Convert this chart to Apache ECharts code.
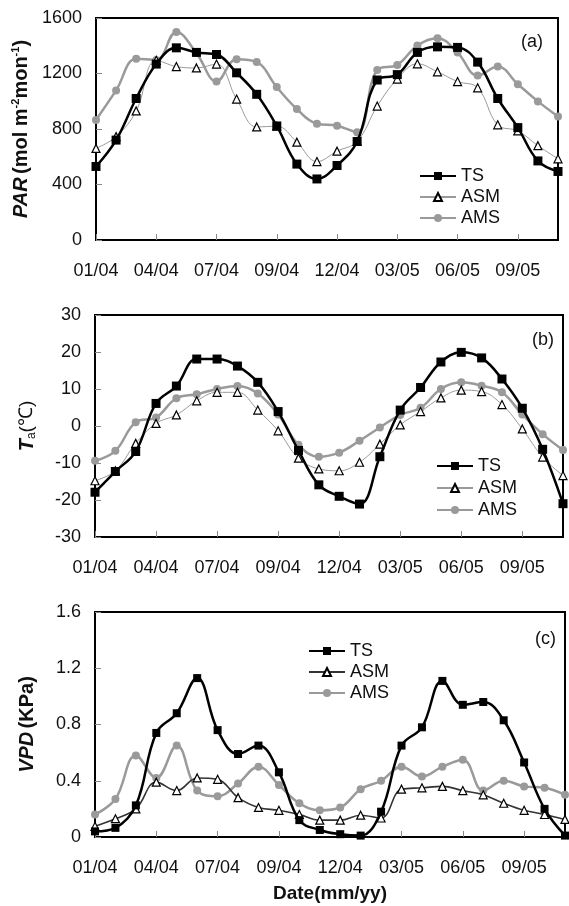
<!DOCTYPE html>
<html lang="en">

<head>
    <meta charset="UTF-8">
    <title>PAR / Ta / VPD</title>
    <script src="https://cdn.jsdelivr.net/npm/echarts@6/dist/echarts.min.js"></script>
    <style>
        body { margin: 0; background: #fff; }
    </style>
</head>

<body>
    <div id="main" style="width: 569px;height:906px;"></div>

    <script type="text/javascript">
        // months 01/04 .. 12/05
        var months = ['01/04', '02/04', '03/04', '04/04', '05/04', '06/04', '07/04', '08/04', '09/04', '10/04', '11/04', '12/04',
            '01/05', '02/05', '03/05', '04/05', '05/05', '06/05', '07/05', '08/05', '09/05', '10/05', '11/05', '12/05'];
        // labels printed under every third month
        var tickLabels = ['01/04', '04/04', '07/04', '09/04', '12/04', '03/05', '06/05', '09/05'];

        // (a) PAR
        var parTS = [530, 720, 1020, 1268, 1385, 1352, 1337, 1205, 1050, 822, 547, 440, 537, 710, 1153, 1192, 1352, 1392, 1388, 1282, 1020, 810, 570, 494];
        var parASM = [660, 745, 930, 1295, 1250, 1240, 1268, 1016, 815, 820, 705, 565, 640, 710, 965, 1160, 1270, 1212, 1142, 1097, 830, 786, 680, 585];
        var parAMS = [865, 1078, 1306, 1298, 1500, 1347, 1142, 1303, 1282, 1102, 944, 838, 824, 776, 1226, 1262, 1402, 1454, 1351, 1185, 1250, 1123, 999, 890];

        // (b) Ta
        var taTS = [-17.9, -12.3, -6.9, 6.1, 10.8, 18.1, 18.1, 16.2, 11.8, 3.9, -6.6, -15.9, -19.0, -21.1, -8.3, 4.3, 10.4, 17.3, 19.9, 18.4, 12.7, 4.8, -6.3, -21.0];
        var taASM = [-14.8, -12.1, -4.7, 0.7, 3.0, 6.8, 9.1, 9.1, 4.3, -1.3, -8.7, -11.6, -12.1, -9.8, -4.9, 0.3, 3.9, 7.6, 9.7, 9.3, 5.8, -0.8, -8.4, -13.4];
        var taAMS = [-9.4, -6.7, 1.0, 2.3, 7.5, 8.6, 10.0, 10.8, 8.8, 3.1, -5.1, -8.3, -7.2, -4.0, -0.4, 3.0, 4.9, 10.0, 11.8, 10.9, 9.1, 3.1, -2.2, -6.5];

        // (c) VPD
        var vpdTS = [0.04, 0.065, 0.225, 0.74, 0.88, 1.13, 0.76, 0.59, 0.65, 0.46, 0.12, 0.05, 0.02, 0.01, 0.18, 0.65, 0.78, 1.11, 0.94, 0.96, 0.83, 0.53, 0.2, 0.01];
        var vpdASM = [0.076, 0.13, 0.2, 0.39, 0.33, 0.42, 0.41, 0.28, 0.21, 0.19, 0.16, 0.12, 0.12, 0.155, 0.135, 0.34, 0.35, 0.36, 0.33, 0.3, 0.24, 0.19, 0.16, 0.125];
        var vpdAMS = [0.16, 0.27, 0.58, 0.42, 0.65, 0.33, 0.29, 0.38, 0.5, 0.37, 0.24, 0.19, 0.21, 0.34, 0.4, 0.5, 0.43, 0.5, 0.55, 0.33, 0.4, 0.36, 0.35, 0.3];

        var font = '"Liberation Sans", Arial, sans-serif';
        var grey = '#9a9a9a';

        var myChart = echarts.init(document.getElementById('main'), null, { renderer: 'canvas' });

        function xAxis(i, withName) {
            return {
                type: 'category',
                gridIndex: i,
                data: months,
                boundaryGap: false,
                name: withName ? 'Date(mm/yy)' : '',
                nameLocation: 'middle',
                nameGap: 47,
                nameTextStyle: { fontFamily: font, fontWeight: 'bold', fontSize: 19, color: '#111' },
                axisLine: { onZero: false, lineStyle: { color: '#000', width: 2 } },
                axisTick: { inside: true, interval: 2, length: 6, lineStyle: { color: '#888' } },
                axisLabel: {
                    interval: 2,
                    margin: 22,
                    fontFamily: font,
                    fontSize: 18,
                    color: '#111',
                    formatter: function (v, idx) {
                        return idx % 3 === 0 ? tickLabels[idx / 3] : '';
                    }
                },
                splitLine: { show: false }
            };
        }

        function yAxis(i, min, max, interval, name, gap) {
            return {
                type: 'value',
                gridIndex: i,
                min: min,
                max: max,
                interval: interval,
                name: name,
                nameLocation: 'middle',
                nameRotate: 90,
                nameGap: gap,
                nameTextStyle: {
                    fontFamily: font,
                    color: '#111',
                    rich: {
                        i: { fontFamily: font, fontStyle: 'italic', fontWeight: 'bold', fontSize: 20, lineHeight: 22, color: '#111' },
                        b: { fontFamily: font, fontWeight: 'bold', fontSize: 20, lineHeight: 22, color: '#111' },
                        sup: { fontFamily: font, fontWeight: 'bold', fontSize: 11, lineHeight: 11, verticalAlign: 'top', color: '#111' },
                        sub: { fontFamily: font, fontSize: 12, lineHeight: 12, verticalAlign: 'bottom', color: '#111' },
                        n: { fontFamily: font, fontSize: 19, lineHeight: 22, color: '#111' }
                    }
                },
                axisLine: { show: true, onZero: false, lineStyle: { color: '#000', width: 2 } },
                axisTick: { show: true, inside: true, length: 6, lineStyle: { color: '#888' } },
                axisLabel: {
                    margin: 14, fontFamily: font, fontSize: 18, color: '#111',
                    formatter: function (v) { return String(Math.round(v * 10) / 10); }
                },
                splitLine: { show: false }
            };
        }

        function tsSeries(i, data, size) {
            return {
                name: 'TS', type: 'line', xAxisIndex: i, yAxisIndex: i, data: data,
                smooth: 0.4, symbol: 'rect', symbolSize: size, z: 4,
                lineStyle: { color: '#000', width: 2.5 },
                itemStyle: { color: '#000' }
            };
        }

        function asmSeries(i, data, lineColor, width) {
            return {
                name: 'ASM', type: 'line', xAxisIndex: i, yAxisIndex: i, data: data,
                smooth: 0.4, symbol: 'triangle', symbolSize: 8, z: 3,
                lineStyle: { color: lineColor, width: width },
                itemStyle: { color: '#fff', borderColor: '#000', borderWidth: 1.2 }
            };
        }

        function amsSeries(i, data) {
            return {
                name: 'AMS', type: 'line', xAxisIndex: i, yAxisIndex: i, data: data,
                smooth: 0.4, symbol: 'circle', symbolSize: 8, z: 2,
                lineStyle: { color: grey, width: 2.5 },
                itemStyle: { color: grey }
            };
        }

        function legend(left, top, gap, asmColor) {
            return {
                orient: 'vertical',
                left: left,
                top: top,
                itemGap: gap,
                itemWidth: 36,
                itemHeight: 10,
                selectedMode: false,
                textStyle: { fontFamily: font, fontSize: 18, color: '#111', padding: [0, 0, 0, 0] },
                data: [
                    { name: 'TS' },
                    { name: 'ASM', lineStyle: { color: asmColor } },
                    { name: 'AMS' }
                ]
            };
        }

        function panelTag(text, left, top) {
            return { text: text, left: left, top: top, textStyle: { fontFamily: font, fontSize: 18, fontWeight: 'normal', color: '#111' } };
        }

        option = {
            backgroundColor: '#fff',
            animation: false,
            title: [
                panelTag('(a)', 516, 28),
                panelTag('(b)', 527, 326),
                panelTag('(c)', 530, 625)
            ],
            legend: [
                legend(414, 162, 3, grey),
                legend(431, 452, 4, grey),
                legend(303, 637, 3, '#333')
            ],
            grid: [
                { left: 96, top: 18, width: 462, height: 222, show: true, borderColor: '#000', borderWidth: 2 },
                { left: 95, top: 315, width: 468, height: 222, show: true, borderColor: '#000', borderWidth: 2 },
                { left: 95, top: 612, width: 470, height: 225, show: true, borderColor: '#000', borderWidth: 2 }
            ],
            xAxis: [xAxis(0, false), xAxis(1, false), xAxis(2, true)],
            yAxis: [
                yAxis(0, 0, 1600, 400, '{i|PAR} {b|(mol m}{sup|-2}{b|mon}{sup|-1}{b|)}', 62),
                yAxis(1, -30, 30, 10, '{i|T}{sub|a}{n|(℃)}', 57),
                yAxis(2, 0, 1.6, 0.4, '{i|VPD} {b|(KPa)}', 57)
            ],
            series: [
                amsSeries(0, parAMS), asmSeries(0, parASM, grey, 1), tsSeries(0, parTS, 9),
                amsSeries(1, taAMS), asmSeries(1, taASM, grey, 1), tsSeries(1, taTS, 9),
                amsSeries(2, vpdAMS), asmSeries(2, vpdASM, '#333', 1.6), tsSeries(2, vpdTS, 8)
            ]
        };

        myChart.setOption(option);
    </script>
</body>

</html>
